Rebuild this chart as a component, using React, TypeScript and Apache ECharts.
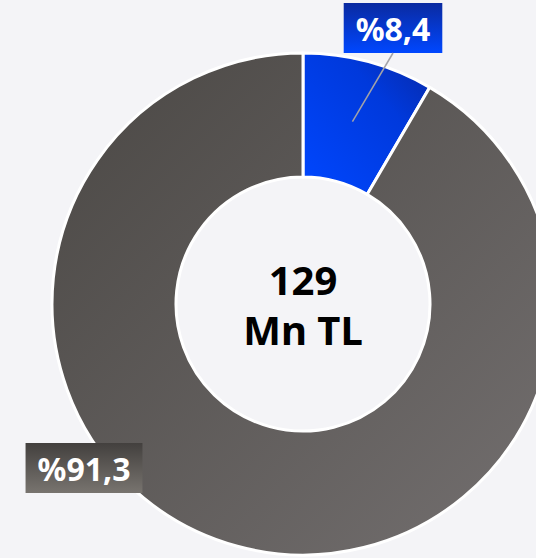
import React, { useEffect, useRef } from "react";
import * as echarts from "echarts";

const categories = ["Mavi", "Gri"];
const values = [8.4, 91.3];
const labelTexts = ["%8,4", "%91,3"];
const centerText = ["129", "Mn TL"];

const CX = 303;
const CY = 304;
const R0 = 127;
const R1 = 251;
const labelPos = [
  [393, 28],
  [84, 468],
];

export default function App() {
  const ref = useRef<HTMLDivElement>(null);
  useEffect(() => {
    const chart = echarts.init(ref.current!, undefined, { renderer: "svg" });
    const total = values.reduce((a, b) => a + b, 0);
    const mids: number[][] = [];
    let cum = 0;
    values.forEach((v) => {
      const ang = ((cum + v / 2) / total) * 2 * Math.PI;
      const rm = (R0 + R1) / 2;
      mids.push([CX + rm * Math.sin(ang), CY - rm * Math.cos(ang)]);
      cum += v;
    });
    const sliceColors = [
      new echarts.graphic.LinearGradient(1, 0, 0, 1, [
        { offset: 0, color: "#0829a6" },
        { offset: 0.35, color: "#0039dc" },
        { offset: 1, color: "#0047ff" },
      ]),
      new echarts.graphic.LinearGradient(0, 0, 1, 1, [
        { offset: 0, color: "#4a4744" },
        { offset: 1, color: "#747070" },
      ]),
    ];
    const boxColors = [
      new echarts.graphic.LinearGradient(0, 0, 0, 1, [
        { offset: 0, color: "#0a2aa0" },
        { offset: 1, color: "#0047ff" },
      ]),
      new echarts.graphic.LinearGradient(0, 0, 0, 1, [
        { offset: 0, color: "#43403e" },
        { offset: 1, color: "#78746f" },
      ]),
    ];
    chart.setOption({
      animation: false,
      backgroundColor: "#f4f4f7",
      graphic: [
        {
          type: "text",
          x: CX,
          y: CY,
          style: {
            text: centerText.join("\n"),
            x: 0,
            y: 0,
            align: "center",
            verticalAlign: "middle",
            font: "bold 40px 'Noto Sans'",
            lineHeight: 50,
            fill: "#000000",
          },
        },
        {
          type: "line",
          z: 100,
          shape: {
            x1: mids[0][0],
            y1: mids[0][1],
            x2: labelPos[0][0],
            y2: labelPos[0][1] + 25,
          },
          style: { stroke: "#a3a3a8", lineWidth: 1.5 },
        },
      ],
      series: [
        {
          type: "pie",
          center: [CX, CY],
          radius: [R0, R1],
          startAngle: 90,
          clockwise: true,
          avoidLabelOverlap: false,
          emphasis: { disabled: true },
          itemStyle: { borderColor: "#ffffff", borderWidth: 3 },
          label: {
            show: true,
            position: "outside",
            color: "#ffffff",
            fontFamily: "Noto Sans",
            fontWeight: "bold",
            fontSize: 32,
            lineHeight: 50,
            padding: [0, 12],
          },
          labelLine: { show: false },
          labelLayout: (params: any) => {
            const i = params.dataIndex;
            const [lx, ly] = labelPos[i];
            return {
              x: lx,
              y: ly,
              align: "center",
              verticalAlign: "middle",
            };
          },
          data: values.map((v, i) => ({
            name: categories[i],
            value: v,
            itemStyle: { color: sliceColors[i] },
            label: {
              formatter: labelTexts[i],
              backgroundColor: boxColors[i],
            },
          })),
        },
      ],
    });
    return () => chart.dispose();
  }, []);
  return (
    <div
      ref={ref}
      style={{
        position: "fixed",
        left: 0,
        top: 0,
        width: 536,
        height: 558,
        background: "#f4f4f7",
      }}
    />
  );
}
